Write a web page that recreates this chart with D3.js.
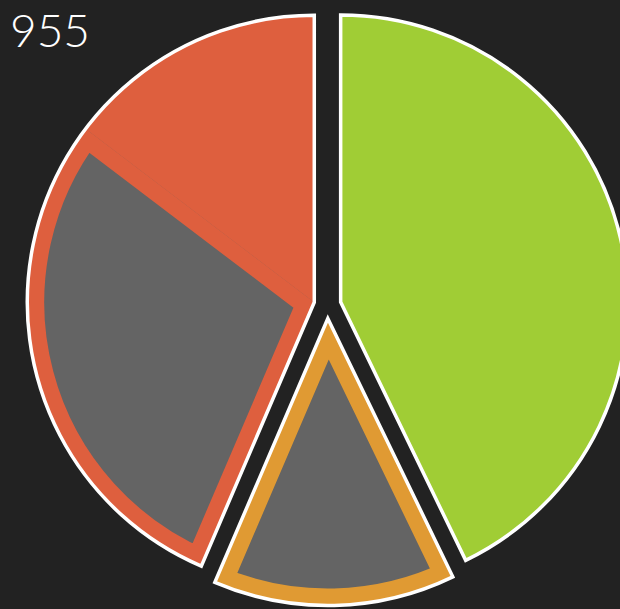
<!DOCTYPE html>
<html>
<head>
<meta charset="utf-8">
<script src="https://cdn.jsdelivr.net/npm/d3@7"></script>
<style>
  html, body { margin: 0; padding: 0; background: #222222; overflow: hidden; }
  svg { display: block; }
</style>
</head>
<body>
<svg width="620" height="609"></svg>
<script>
var categories = ['A', 'B', 'C']
var values = [409, 130, 416]
var subValues = [0, 130, 276]
var colors = ['#a0cd35', '#e09a33', '#de5f3e']
var subColor = '#646464'

var cx = 327.5
var cy = 305
var radius = 287
var explode = 13.5
var inset = 17

var total = d3.sum(values)

var svg = d3.select('svg')

var data = categories.map((c, i) => ({ name: c, value: values[i], sub: subValues[i], color: colors[i] }))

var pie = d3.pie()
  .sort(null)
  .value((d) => d.value)

var angle = d3.scaleLinear()
  .domain([0, total])
  .range([0, 2 * Math.PI])

var arc = d3.arc()
  .innerRadius(0)
  .outerRadius(radius)

var defs = svg.append('defs')

var chart = svg.append('g')
  .attr('transform', 'translate(' + cx + ',' + cy + ')')

var slices = chart.selectAll('g.slice')
  .data(pie(data))
  .enter()
  .append('g')
  .attr('class', 'slice')
  .attr('transform', (d) => {
    var mid = (d.startAngle + d.endAngle) / 2
    return 'translate(' + (Math.sin(mid) * explode) + ',' + (-Math.cos(mid) * explode) + ')'
  })

// colored slice
slices.append('path')
  .attr('d', arc)
  .style('fill', (d) => d.data.color)

// gray part, inset from the slice edges (inner half of a thick stroke)
slices.each(function (d, i) {
  if (!d.data.sub) return
  var subArc = {
    startAngle: d.startAngle,
    endAngle: d.startAngle + angle(d.data.sub)
  }
  var id = 'clip-sub-' + i
  defs.append('clipPath')
    .attr('id', id)
    .append('path')
    .attr('d', arc(subArc))
  d3.select(this).append('path')
    .attr('d', arc(subArc))
    .attr('clip-path', 'url(#' + id + ')')
    .style('fill', subColor)
    .style('stroke', d.data.color)
    .style('stroke-width', inset * 2)
    .style('stroke-linejoin', 'miter')
    .style('stroke-miterlimit', 20)
})

// white outline
slices.append('path')
  .attr('d', arc)
  .style('fill', 'none')
  .style('stroke', '#ffffff')
  .style('stroke-width', 3.5)
  .style('stroke-linejoin', 'miter')

svg.append('text')
  .attr('x', 10)
  .attr('y', 47)
  .style('font-family', 'Lato, sans-serif')
  .style('font-weight', 300)
  .style('font-size', '46px')
  .style('fill', '#ffffff')
  .text(d3.format('d')(total))
</script>
</body>
</html>
